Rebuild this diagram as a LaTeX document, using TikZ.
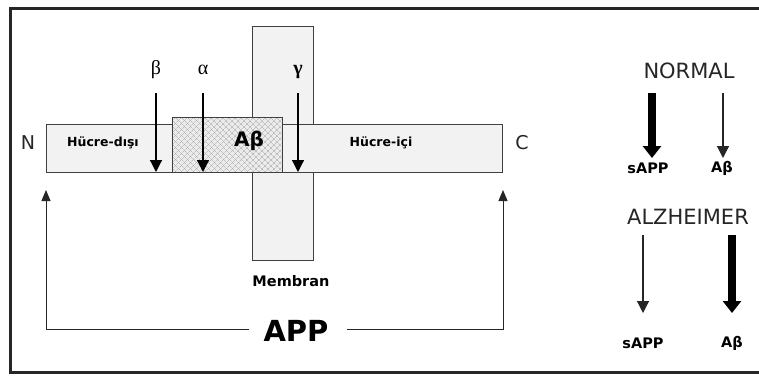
\documentclass[tikz,border=0pt]{standalone}
\usepackage{fontspec}
\setmainfont{DejaVu Sans}
\newfontfamily\grk{Liberation Serif}
\usetikzlibrary{arrows.meta,patterns.meta}
\begin{document}
\begin{tikzpicture}[x=1pt,y=-1pt,
  boxst/.style={draw=black!75,line width=1pt,fill=black!5},
  cutarr/.style={line width=1.2pt,-{Triangle[width=12pt,length=12pt]}},
  thinarr/.style={line width=1.2pt,draw=black!85,-{Triangle[width=12pt,length=12pt]}},
  thickarr/.style={line width=8pt,-{Triangle[width=18pt,length=12pt]}},
  uparr/.style={line width=1pt,draw=black!85,-{Triangle[width=9pt,length=11pt]}},
  lbl/.style={font=\bfseries\fontsize{12.5}{14}\selectfont,inner sep=0pt},
  small/.style={font=\bfseries\fontsize{14.5}{16}\selectfont,inner sep=0pt},
  big/.style={font=\fontsize{21}{24}\selectfont,inner sep=0pt,text=black!85},
  greek/.style={font=\grk\fontsize{20}{22}\selectfont,inner sep=0pt}]
\useasboundingbox (0,0) rectangle (759,375);
\fill[white] (0,0) rectangle (759,375);
% frame
\draw[line width=3pt,draw=black!85] (762,8) -- (10,8) -- (10,372) -- (762,372);
% membrane
\draw[boxst] (252,26) rectangle (313,260);
% APP bar
\draw[boxst] (46,124) rectangle (502,172);
% Abeta region
\draw[boxst,fill=black!8] (172,117) rectangle (282,172);
\fill[pattern={Lines[angle=45,distance=4pt,line width=0.35pt]},pattern color=black!35] (172.5,117.5) rectangle (281.5,171.5);
\fill[pattern={Lines[angle=-45,distance=4pt,line width=0.35pt]},pattern color=black!35] (172.5,117.5) rectangle (281.5,171.5);
\draw[draw=black!75,line width=1pt] (172,117) rectangle (282,172);
% labels in bar
\node[lbl] (hd) at (103,143) {Hücre-dışı};
\node[font=\bfseries\fontsize{20}{22}\selectfont,inner sep=0pt] (ab) at (249,141) {Aβ};
\node[lbl] (hi) at (381,143) {Hücre-içi};
\node[font=\fontsize{19}{21}\selectfont,inner sep=0pt,text=black!85] (N) at (28,143) {N};
\node[font=\fontsize{19}{21}\selectfont,inner sep=0pt,text=black!85] (C) at (522,143) {C};
\node[font=\bfseries\fontsize{14.5}{16}\selectfont,inner sep=0pt] (mem) at (291,281) {Membran};
% secretases
\node[greek] (beta) at (156,70) {β};
\node[greek] (alpha) at (203,70) {α};
\node[greek,font=\grk\bfseries\fontsize{20}{22}\selectfont] (gamma) at (298,72) {γ};
\coordinate (bT) at (156,93); \coordinate (bB) at (156,172);
\coordinate (aT) at (203,93); \coordinate (aB) at (203,172);
\coordinate (gT) at (298,93); \coordinate (gB) at (298,172);
\draw[cutarr] (bT) -- (bB);
\draw[cutarr] (aT) -- (aB);
\draw[cutarr] (gT) -- (gB);
% APP
\node[font=\bfseries\fontsize{29}{31}\selectfont,inner sep=0pt] (app) at (296,331) {APP};
\coordinate (Lb) at (46,329); \coordinate (Lt) at (46,190);
\coordinate (Rb) at (503,329); \coordinate (Rt) at (503,190);
\draw[uparr] (app.west) ++(-14,-2) -- (Lb) -- (Lt);
\draw[uparr] (app.east) ++(18,-2) -- (Rb) -- (Rt);
% right panel
\node[big] (normal) at (689,71) {NORMAL};
\node[small] (s1) at (648,168) {sAPP};
\node[small] (a1) at (722,168) {Aβ};
\coordinate (n1T) at (652,93); \coordinate (n1B) at (652,158);
\coordinate (n2T) at (723,93); \coordinate (n2B) at (723,158);
\draw[thickarr] (n1T) -- (n1B);
\draw[thinarr] (n2T) -- (n2B);
\node[big] (alz) at (688,217) {ALZHEIMER};
\node[small] (s2) at (643,343) {sAPP};
\node[small] (a2) at (732,343) {Aβ};
\coordinate (z1T) at (643,235); \coordinate (z1B) at (643,313);
\coordinate (z2T) at (732,235); \coordinate (z2B) at (732,313);
\draw[thinarr] (z1T) -- (z1B);
\draw[thickarr] (z2T) -- (z2B);
\end{tikzpicture}
\end{document}
